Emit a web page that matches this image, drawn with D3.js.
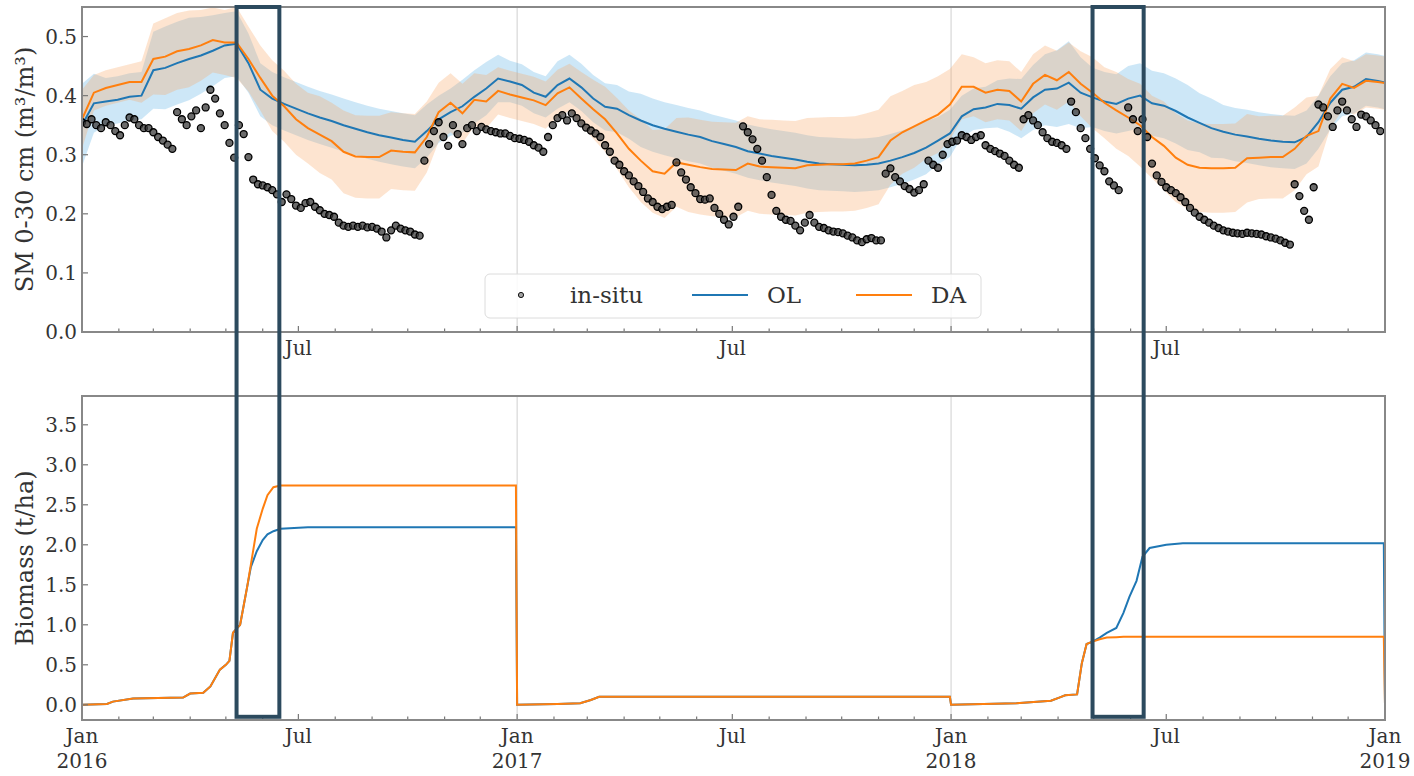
<!DOCTYPE html>
<html>
<head>
<meta charset="utf-8">
<script src="https://cdn.jsdelivr.net/npm/d3@7"></script>
<style>
  body { margin: 0; background: #fff; }
  svg text { font-family: "DejaVu Serif", "Liberation Serif", "Times New Roman", serif; fill: #333; }
</style>
</head>
<body>
<script>
// ---- data ----
// soil moisture (m3/m3), one sample every smStep days from 2016-01-01
const smStart = "2016-01-01";
const smStep = 10;
const smOL = [0.35,0.387,0.39,0.393,0.398,0.40,0.443,0.447,0.455,0.462,
  0.468,0.476,0.485,0.488,0.455,0.41,0.395,0.386,0.378,0.37,
  0.363,0.357,0.35,0.344,0.338,0.333,0.329,0.325,0.322,0.34,
  0.36,0.372,0.382,0.398,0.412,0.429,0.424,0.418,0.405,0.398,
  0.418,0.429,0.414,0.395,0.381,0.378,0.367,0.358,0.35,0.344,
  0.339,0.334,0.33,0.323,0.318,0.313,0.306,0.302,0.298,0.295,
  0.292,0.288,0.285,0.284,0.283,0.282,0.283,0.285,0.29,0.296,
  0.303,0.312,0.324,0.336,0.365,0.377,0.38,0.386,0.384,0.378,
  0.397,0.41,0.412,0.422,0.405,0.397,0.39,0.386,0.395,0.40,
  0.387,0.383,0.374,0.363,0.354,0.345,0.339,0.334,0.331,0.327,
  0.324,0.322,0.321,0.33,0.355,0.388,0.41,0.415,0.428,0.425,0.42];
const smDA = [0.36,0.405,0.413,0.418,0.423,0.423,0.462,0.466,0.475,0.479,
  0.485,0.494,0.49,0.49,0.462,0.43,0.40,0.382,0.36,0.345,
  0.334,0.323,0.305,0.297,0.296,0.296,0.307,0.305,0.304,0.33,
  0.372,0.388,0.37,0.393,0.39,0.408,0.402,0.397,0.392,0.384,
  0.404,0.414,0.395,0.377,0.36,0.336,0.31,0.29,0.272,0.268,
  0.287,0.283,0.279,0.276,0.275,0.274,0.285,0.28,0.279,0.278,
  0.277,0.282,0.283,0.284,0.284,0.285,0.29,0.296,0.324,0.338,
  0.348,0.358,0.368,0.385,0.415,0.415,0.405,0.41,0.408,0.39,
  0.42,0.435,0.426,0.44,0.42,0.405,0.388,0.375,0.363,0.35,
  0.33,0.315,0.295,0.283,0.278,0.277,0.277,0.278,0.294,0.295,
  0.296,0.296,0.31,0.332,0.34,0.395,0.42,0.413,0.425,0.423,0.42];
// ensemble half-spread around each mean
const smOLSpread = [0.07,0.05,0.04,0.04,0.04,0.04,0.065,0.07,0.07,0.07,
  0.065,0.06,0.055,0.055,0.05,0.045,0.045,0.045,0.045,0.045,
  0.045,0.045,0.045,0.045,0.045,0.045,0.045,0.045,0.045,0.045,
  0.04,0.04,0.045,0.045,0.045,0.04,0.035,0.035,0.035,0.035,
  0.04,0.04,0.04,0.04,0.04,0.04,0.04,0.045,0.045,0.045,
  0.045,0.045,0.045,0.045,0.045,0.045,0.045,0.045,0.045,0.045,
  0.045,0.045,0.045,0.045,0.045,0.045,0.045,0.045,0.045,0.045,
  0.045,0.045,0.04,0.04,0.035,0.035,0.035,0.04,0.045,0.05,
  0.055,0.06,0.065,0.07,0.06,0.05,0.05,0.05,0.055,0.055,
  0.055,0.055,0.055,0.055,0.05,0.05,0.045,0.045,0.045,0.045,
  0.045,0.045,0.045,0.045,0.045,0.045,0.045,0.045,0.045,0.045,0.045];
const smDASpread = [0.05,0.03,0.03,0.03,0.03,0.035,0.06,0.065,0.065,0.065,
  0.06,0.055,0.055,0.06,0.055,0.055,0.06,0.06,0.06,0.06,
  0.065,0.065,0.07,0.07,0.07,0.07,0.065,0.065,0.065,0.06,
  0.05,0.05,0.05,0.045,0.045,0.04,0.04,0.04,0.04,0.04,
  0.04,0.04,0.045,0.05,0.055,0.06,0.065,0.07,0.07,0.075,
  0.075,0.08,0.08,0.08,0.08,0.08,0.08,0.08,0.08,0.08,
  0.08,0.08,0.08,0.08,0.08,0.08,0.08,0.08,0.075,0.07,
  0.07,0.065,0.065,0.06,0.055,0.05,0.05,0.05,0.05,0.05,
  0.05,0.05,0.05,0.05,0.055,0.06,0.06,0.065,0.065,0.07,
  0.07,0.075,0.075,0.075,0.075,0.075,0.075,0.075,0.075,0.07,
  0.07,0.07,0.07,0.065,0.06,0.05,0.045,0.045,0.045,0.045,0.045];

// in-situ soil moisture, one reading every insituStep days from 2016-01-01
const insituStep = 4;
const insitu = [0.355,0.352,0.36,0.35,0.345,0.355,0.35,0.34,0.333,0.35,
  0.363,0.36,0.35,0.345,0.345,0.338,0.33,0.324,0.317,0.31,
  0.372,0.36,0.35,0.365,0.375,0.345,0.38,0.41,0.395,0.37,
  0.35,0.32,0.295,0.35,0.335,0.296,0.258,0.25,0.248,0.245,
  0.24,0.233,0.22,0.233,0.225,0.214,0.21,0.218,0.22,0.212,
  0.206,0.2,0.198,0.195,0.185,0.18,0.178,0.18,0.178,0.18,
  0.177,0.178,0.175,0.17,0.16,0.172,0.18,0.175,0.172,0.17,
  0.165,0.163,0.29,0.318,0.34,0.355,0.33,0.315,0.35,0.335,
  0.318,0.345,0.35,0.34,0.347,0.343,0.34,0.338,0.336,0.336,
  0.332,0.328,0.327,0.325,0.322,0.316,0.312,0.305,0.33,0.35,
  0.362,0.367,0.358,0.37,0.362,0.353,0.346,0.341,0.336,0.33,
  0.316,0.305,0.29,0.283,0.272,0.265,0.255,0.247,0.237,0.226,
  0.22,0.212,0.208,0.212,0.215,0.287,0.27,0.258,0.245,0.235,
  0.225,0.224,0.226,0.21,0.2,0.19,0.182,0.195,0.212,0.348,
  0.338,0.326,0.31,0.29,0.262,0.232,0.205,0.195,0.19,0.188,
  0.18,0.172,0.185,0.198,0.185,0.178,0.176,0.172,0.17,0.169,
  0.167,0.163,0.16,0.155,0.152,0.157,0.159,0.155,0.155,0.268,
  0.277,0.262,0.255,0.247,0.242,0.236,0.24,0.25,0.29,0.283,
  0.278,0.3,0.318,0.322,0.324,0.333,0.33,0.325,0.33,0.333,
  0.316,0.31,0.306,0.302,0.298,0.29,0.283,0.278,0.36,0.367,
  0.358,0.35,0.338,0.328,0.322,0.32,0.316,0.31,0.39,0.372,
  0.345,0.328,0.31,0.294,0.282,0.272,0.255,0.248,0.24,null,
  0.38,0.36,0.34,0.36,0.33,0.285,0.265,0.254,0.245,0.24,
  0.235,0.228,0.22,0.21,0.202,0.195,0.19,0.185,0.18,0.176,
  0.172,0.17,0.168,0.167,0.166,0.168,0.167,0.166,0.165,0.162,
  0.16,0.158,0.155,0.151,0.148,0.25,0.23,0.205,0.19,0.245,
  0.385,0.38,0.365,0.347,0.375,0.39,0.375,0.36,0.347,0.368,
  0.365,0.358,0.35,0.34];

// biomass (t/ha)
const bioDates = ["2016-01-01","2016-01-22","2016-01-27","2016-02-13","2016-03-26","2016-04-01","2016-04-12","2016-04-18","2016-04-26","2016-05-01",
  "2016-05-04","2016-05-07","2016-05-13","2016-05-19","2016-05-22","2016-05-27","2016-06-01","2016-06-05","2016-06-10","2016-06-16",
  "2016-07-09","2016-12-31","2017-01-01","2017-02-04","2017-02-23","2017-03-04","2017-03-11","2017-12-31","2018-01-01","2018-02-25",
  "2018-03-26","2018-04-02","2018-04-07","2018-04-17","2018-04-21","2018-04-25","2018-04-30","2018-05-06","2018-05-12","2018-05-20",
  "2018-05-26","2018-05-31","2018-06-06","2018-06-11","2018-06-17","2018-07-01","2018-07-15","2018-12-31","2019-01-01"];
const bioOL = [0,0.01,0.04,0.08,0.09,0.14,0.15,0.23,0.44,0.5,
  0.55,0.9,1.0,1.48,1.72,1.92,2.06,2.13,2.17,2.2,
  2.22,2.22,0,0.01,0.02,0.06,0.1,0.1,0,0.02,
  0.05,0.09,0.12,0.13,0.52,0.76,0.79,0.84,0.9,0.96,
  1.15,1.35,1.55,1.85,1.96,2.0,2.02,2.02,0];
const bioDA = [0,0.01,0.04,0.08,0.09,0.14,0.15,0.23,0.44,0.5,
  0.55,0.9,1.0,1.48,1.75,2.2,2.45,2.62,2.72,2.74,
  2.74,2.74,0,0.01,0.02,0.06,0.1,0.1,0,0.02,
  0.05,0.09,0.12,0.13,0.52,0.76,0.79,0.82,0.84,0.845,
  0.85,0.85,0.85,0.85,0.85,0.85,0.85,0.85,0];

// highlighted windows
const windows = [["2016-05-10","2016-06-15"],["2018-04-30","2018-06-12"]];

const smTicks = [0,0.1,0.2,0.3,0.4,0.5];
const bioTicks = [0,0.5,1,1.5,2,2.5,3,3.5];
const legendItems = ["in-situ","OL","DA"];

// ---- setup ----
const parse = d3.timeParse("%Y-%m-%d");
const t0 = parse(smStart);
const colOL = "#1f77b4", colDA = "#ff7f0e";

const svg = d3.select("body").append("svg").attr("width", 1414).attr("height", 776);

const left = 82, right = 1385;
const p1 = {top: 7, bottom: 332}, p2 = {top: 396, bottom: 720};

const x = d3.scaleTime().domain([parse("2016-01-01"), parse("2019-01-01")]).range([left, right]);
const ySM = d3.scaleLinear().domain([0, 0.55]).range([p1.bottom, p1.top]);
const yBio = d3.scaleLinear().domain([-0.19, 3.86]).range([p2.bottom, p2.top]);

const defs = svg.append("defs");
[["c1", p1], ["c2", p2]].forEach(([id, p]) => {
  defs.append("clipPath").attr("id", id).append("rect")
    .attr("x", left).attr("y", p.top).attr("width", right - left).attr("height", p.bottom - p.top);
});

const sm = smOL.map((v, i) => ({
  date: d3.timeDay.offset(t0, i * smStep),
  ol: v, da: smDA[i], olS: smOLSpread[i], daS: smDASpread[i]
}));
const ins = insitu.map((v, i) => ({date: d3.timeDay.offset(t0, i * insituStep), v: v}))
  .filter(d => d.v !== null);
const bio = bioDates.map((d, i) => ({date: parse(d), ol: bioOL[i], da: bioDA[i]}));

const yearLines = [parse("2017-01-01"), parse("2018-01-01")];
const months = d3.timeMonth.range(parse("2016-01-01"), parse("2019-01-02"));

// grid at year boundaries
[p1, p2].forEach(p => {
  svg.append("g").selectAll("line").data(yearLines).enter().append("line")
    .attr("x1", d => x(d)).attr("x2", d => x(d))
    .attr("y1", p.top).attr("y2", p.bottom)
    .attr("stroke", "#cfcfcf").attr("stroke-width", 1);
});

// ---- top panel ----
const g1 = svg.append("g").attr("clip-path", "url(#c1)");

g1.append("path").datum(sm)
  .attr("d", d3.area().x(d => x(d.date)).y0(d => ySM(d.ol - d.olS)).y1(d => ySM(d.ol + d.olS)))
  .attr("fill", "#5aaee6").attr("fill-opacity", 0.3);
g1.append("path").datum(sm)
  .attr("d", d3.area().x(d => x(d.date)).y0(d => ySM(d.da - d.daS)).y1(d => ySM(d.da + d.daS)))
  .attr("fill", "#f7a463").attr("fill-opacity", 0.3);

g1.append("path").datum(sm)
  .attr("d", d3.line().x(d => x(d.date)).y(d => ySM(d.ol)))
  .attr("fill", "none").attr("stroke", colOL).attr("stroke-width", 2);
g1.append("path").datum(sm)
  .attr("d", d3.line().x(d => x(d.date)).y(d => ySM(d.da)))
  .attr("fill", "none").attr("stroke", colDA).attr("stroke-width", 2);

g1.selectAll("circle").data(ins).enter().append("circle")
  .attr("cx", d => x(d.date)).attr("cy", d => ySM(d.v)).attr("r", 3.5)
  .attr("fill", "#3a3a3a").attr("fill-opacity", 0.75)
  .attr("stroke", "#000").attr("stroke-width", 1.3);

// ---- bottom panel ----
const g2 = svg.append("g").attr("clip-path", "url(#c2)");
g2.append("path").datum(bio)
  .attr("d", d3.line().x(d => x(d.date)).y(d => yBio(d.ol)))
  .attr("fill", "none").attr("stroke", colOL).attr("stroke-width", 2);
g2.append("path").datum(bio)
  .attr("d", d3.line().x(d => x(d.date)).y(d => yBio(d.da)))
  .attr("fill", "none").attr("stroke", colDA).attr("stroke-width", 2);

// ---- axes ----
function drawAxes(p, y, ticks, fmt, showJan) {
  const g = svg.append("g");
  g.selectAll(".mt").data(months).enter().append("line")
    .attr("x1", d => x(d)).attr("x2", d => x(d))
    .attr("y1", p.bottom).attr("y2", d => p.bottom - (d.getMonth() % 6 === 0 ? 6 : 3.5))
    .attr("stroke", "#777").attr("stroke-width", 1.2);
  g.selectAll(".yt").data(ticks).enter().append("line")
    .attr("x1", left).attr("x2", left + 6)
    .attr("y1", d => y(d)).attr("y2", d => y(d))
    .attr("stroke", "#777").attr("stroke-width", 1.2);
  g.selectAll(".yl").data(ticks).enter().append("text")
    .attr("x", left - 5).attr("y", d => y(d)).attr("dy", "0.35em")
    .attr("text-anchor", "end").style("font-size", "20px")
    .text(fmt);
  const labs = months.filter(d => d.getMonth() === 6 || (showJan && d.getMonth() === 0));
  const xl = g.selectAll(".xl").data(labs).enter().append("text")
    .attr("x", d => x(d)).attr("y", p.bottom + 23)
    .attr("text-anchor", "middle").style("font-size", "20px");
  xl.append("tspan").text(d => d3.timeFormat("%b")(d));
  xl.filter(d => d.getMonth() === 0).append("tspan")
    .attr("x", d => x(d)).attr("dy", 25).text(d => d.getFullYear());
  g.append("rect").attr("x", left).attr("y", p.top)
    .attr("width", right - left).attr("height", p.bottom - p.top)
    .attr("fill", "none").attr("stroke", "#888").attr("stroke-width", 2);
}
drawAxes(p1, ySM, smTicks, d3.format(".1f"), false);
drawAxes(p2, yBio, bioTicks, d3.format(".1f"), true);

svg.append("text")
  .attr("transform", `translate(33, ${(p1.top + p1.bottom) / 2}) rotate(-90)`)
  .attr("text-anchor", "middle").style("font-size", "24px")
  .text("SM 0-30 cm (m³/m³)");
svg.append("text")
  .attr("transform", `translate(33, ${(p2.top + p2.bottom) / 2}) rotate(-90)`)
  .attr("text-anchor", "middle").style("font-size", "24px")
  .text("Biomass (t/ha)");

// ---- legend ----
const lg = svg.append("g").attr("transform", "translate(485, 274)");
lg.append("rect").attr("width", 496).attr("height", 44).attr("rx", 5)
  .attr("fill", "#fff").attr("fill-opacity", 0.85).attr("stroke", "#dcdcdc");
lg.append("circle").attr("cx", 36).attr("cy", 21).attr("r", 2.6)
  .attr("fill", "#555").attr("fill-opacity", 0.55).attr("stroke", "#111");
[[207, colOL], [371, colDA]].forEach(([lx, c]) => {
  lg.append("line").attr("x1", lx).attr("x2", lx + 56).attr("y1", 21).attr("y2", 21)
    .attr("stroke", c).attr("stroke-width", 2);
});
lg.selectAll(".lt").data(legendItems).enter().append("text")
  .attr("x", (d, i) => [85, 282, 446][i]).attr("y", 21).attr("dy", "0.35em")
  .style("font-size", "23px").text(d => d);

// ---- highlight windows ----
svg.append("g").selectAll("rect").data(windows).enter().append("rect")
  .attr("x", d => x(parse(d[0]))).attr("y", ySM(0.55))
  .attr("width", d => x(parse(d[1])) - x(parse(d[0])))
  .attr("height", yBio(-0.15) - ySM(0.55))
  .attr("fill", "none").attr("stroke", "#2c4a5e").attr("stroke-width", 4);
</script>
</body>
</html>
